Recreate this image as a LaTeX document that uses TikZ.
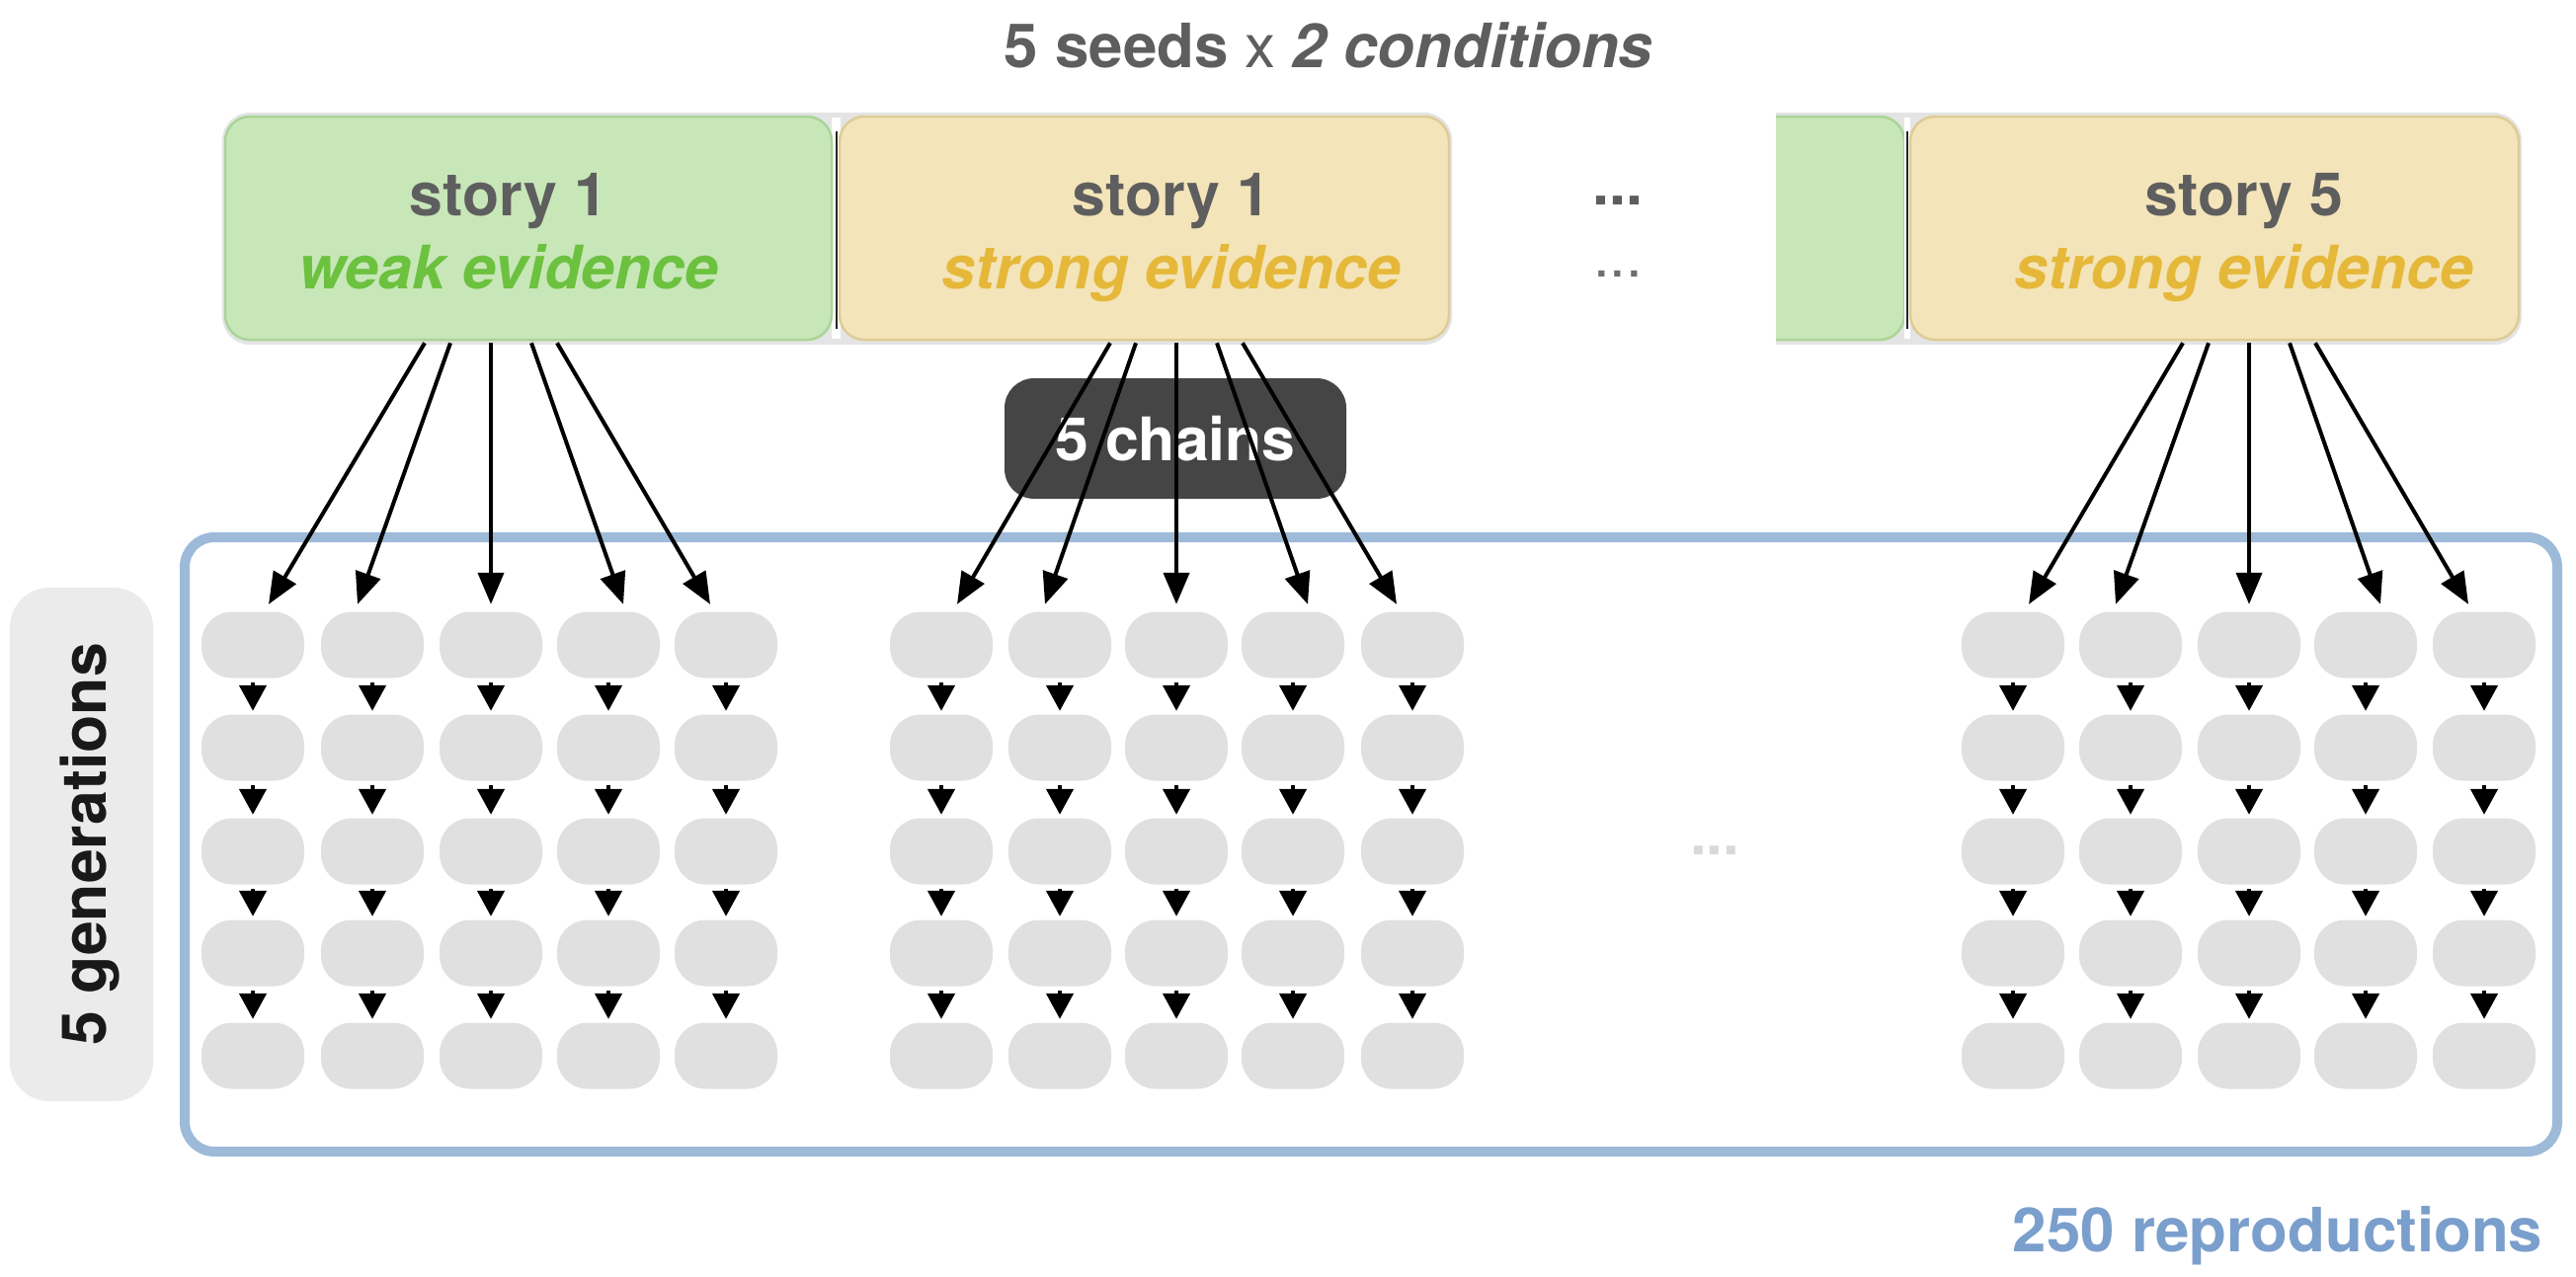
\documentclass[tikz,border=0pt]{standalone}
\usepackage{fontspec}
\setmainfont{TeX Gyre Heros}
\usetikzlibrary{arrows.meta,calc}
\definecolor{greenfill}{HTML}{C8E7B9}
\definecolor{greenline}{HTML}{AAD498}
\definecolor{yellowfill}{HTML}{F4E4B9}
\definecolor{yellowline}{HTML}{DECC96}
\definecolor{txtgray}{HTML}{5E5E5E}
\definecolor{greentxt}{HTML}{6CC13F}
\definecolor{yellowtxt}{HTML}{E5B83A}
\definecolor{chainfill}{HTML}{454545}
\definecolor{cellgray}{HTML}{E0E0E0}
\definecolor{genfill}{HTML}{EBEBEB}
\definecolor{blueline}{HTML}{9DBAD9}
\definecolor{bluetxt}{HTML}{7A9FCC}
\definecolor{bargray}{HTML}{E4E4E4}
\definecolor{dotgray}{HTML}{D9D9D9}
\begin{document}
\begin{tikzpicture}[x=0.1mm,y=-0.1mm,
  cell/.style={fill=cellgray, rounded corners=3.1mm, minimum width=10.4mm, minimum height=6.7mm, inner sep=0pt},
  bigarr/.style={line width=0.4mm, -{Triangle[length=3.2mm,width=2.6mm]}},
  smallarr/.style={line width=0.45mm, -{Triangle[length=2.6mm,width=2.7mm]}, shorten <=0.4mm, shorten >=0.3mm},
  storybox/.style={rounded corners=2.5mm, line width=0.25mm, inner sep=0pt, minimum height=22.6mm},
  lbl/.style={font=\fontsize{17.3}{20}\selectfont\bfseries, inner sep=0pt},
  lblit/.style={font=\fontsize{17.3}{20}\selectfont\bfseries\itshape, inner sep=0pt}]
\useasboundingbox (0,0) rectangle (2608,1292);

% title
\node[anchor=base, inner sep=0pt, text=txtgray, font=\fontsize{17.6}{20}\selectfont] (title) at (1345,68)
  {\bfseries 5 seeds \mdseries x \bfseries\itshape 2 conditions};

% top bars
\fill[bargray, rounded corners=2.8mm] (225,114) rectangle (1470,349);
\begin{scope}
  \clip (1798,0) rectangle (2608,400);
  \fill[bargray, rounded corners=2.8mm] (1740,114) rectangle (2553,349);
  \draw[fill=greenfill, draw=greenline, line width=0.25mm, rounded corners=2.5mm] (1700,118) rectangle (1928,344);
\end{scope}
\fill[white] (842,119) rectangle (851,343);
\fill[white] (1928,119) rectangle (1934,343);

\node[storybox, fill=greenfill, draw=greenline, minimum width=61.4mm] (sbw1) at (535,231) {};
\node[storybox, fill=yellowfill, draw=yellowline, minimum width=61.7mm] (sbs1) at (1158.5,231) {};
\node[storybox, fill=yellowfill, draw=yellowline, minimum width=61.6mm] (sbs5) at (2242,231) {};
\draw[line width=0.25mm, black!85] (847,133) -- (847,333);
\draw[line width=0.25mm, black!85] (1931,133) -- (1931,333);

\node[lbl, anchor=base, text=txtgray] (s1a) at (515,218) {story 1};
\node[lblit, anchor=base, text=greentxt] (s1b) at (515,292) {weak evidence};
\node[lbl, anchor=base, text=txtgray] (s2a) at (1186,218) {story 1};
\node[lblit, anchor=base, text=yellowtxt] (s2b) at (1186,292) {strong evidence};
\node[lbl, anchor=base, text=txtgray] (s5a) at (2272,218) {story 5};
\node[lblit, anchor=base, text=yellowtxt] (s5b) at (2272,292) {strong evidence};

\node[lbl, anchor=base, text=txtgray] (dotsa) at (1638,207) {...};
\node[anchor=base, inner sep=0pt, text=txtgray!90, font=\fontsize{17}{20}\selectfont] (dotsb) at (1638,280) {...};

% 5 chains
\node[fill=chainfill, rounded corners=3mm, minimum width=34.6mm, minimum height=12.2mm, inner sep=0pt,
      text=white, font=\fontsize{17.3}{20}\selectfont\bfseries] (chains) at (1190,444) {5 chains};

% reproduction frame
\node[draw=blueline, line width=1mm, rounded corners=3mm, minimum width=240.2mm, minimum height=62.2mm, inner sep=0pt] (repbox) at (1388,855) {};

% generations label
\node[fill=genfill, rounded corners=4mm, minimum width=14.5mm, minimum height=52mm, inner sep=0pt] (gen) at (82.5,855) {};
\node[rotate=90, inner sep=0pt, text=black!90, font=\fontsize{17.8}{20}\selectfont\bfseries] (gentxt) at (91,855) {5 generations};

\node[lbl, anchor=base east, text=bluetxt, font=\fontsize{17.6}{20}\selectfont\bfseries] (reps) at (2575,1267) {250 reproductions};

\node[anchor=base, inner sep=0pt, text=dotgray, font=\fontsize{17}{20}\selectfont\bfseries] (dotsc) at (1736,865) {...};

% cells
\foreach \g/\xs in {1/{256,377,497,616,735}, 2/{953,1073,1191,1309,1430}, 3/{2038,2157,2277,2395,2515}} {
  \foreach \xx [count=\c] in \xs {
    \foreach \yy [count=\r] in {653,757,862,965,1069} {
      \node[cell] (n\g-\r-\c) at (\xx,\yy) {};
    }
  }
}
% chain arrows
\foreach \g in {1,2,3} {
  \foreach \c in {1,...,5} {
    \foreach \r in {1,...,4} {
      \pgfmathtruncatemacro\rn{\r+1}
      \draw[smallarr] (n\g-\r-\c.south) -- (n\g-\rn-\c.north);
    }
  }
}
% seed arrows
\foreach \g/\bx in {1/sbw1, 2/sbs1, 3/sbs5} {
  \path (n\g-1-3.north |- \bx.south) coordinate (top\g);
  \foreach \c/\so/\eo in {1/-67/16, 2/-41/-15, 3/0/0, 4/41/15, 5/67/-16} {
    \draw[bigarr] ($(top\g)+(\so,2)$) -- ($(n\g-1-\c.north)+(\eo,-7)$);
  }
}
\end{tikzpicture}
\end{document}
